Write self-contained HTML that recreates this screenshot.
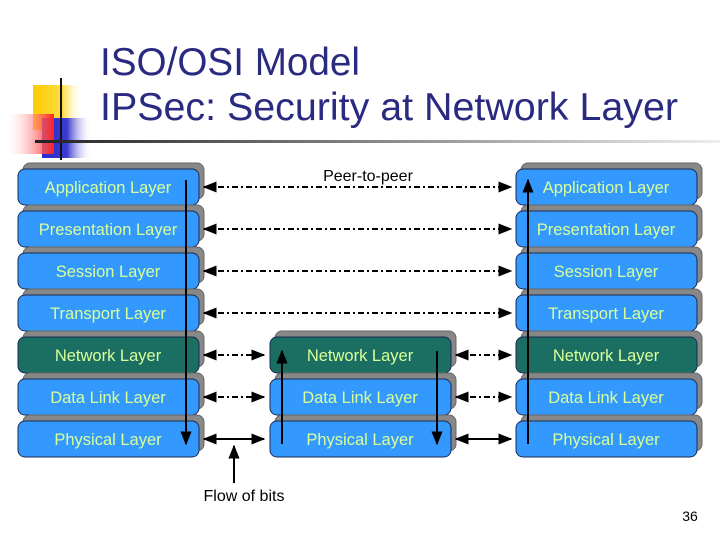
<!DOCTYPE html>
<html><head><style>
body{margin:0;background:#fff;width:720px;height:540px;overflow:hidden;}
</style></head><body>
<svg width="720" height="540" xmlns="http://www.w3.org/2000/svg" font-family="Liberation Sans, Arial, sans-serif">
<defs>
<linearGradient id="yl" x1="0" x2="1"><stop offset="0" stop-color="#ffcc00"/><stop offset="0.6" stop-color="#ffdd44"/><stop offset="1" stop-color="#fff" stop-opacity="0"/></linearGradient>
<linearGradient id="rd" x1="1" x2="0"><stop offset="0" stop-color="#ff2020"/><stop offset="1" stop-color="#fff" stop-opacity="0.2"/></linearGradient>
<linearGradient id="bl" x1="0" x2="1"><stop offset="0" stop-color="#2a2acc"/><stop offset="0.5" stop-color="#3a3ad0"/><stop offset="1" stop-color="#fff" stop-opacity="0"/></linearGradient>
<linearGradient id="ln" x1="0" x2="1"><stop offset="0" stop-color="#222"/><stop offset="0.5" stop-color="#888"/><stop offset="1" stop-color="#eee"/></linearGradient>
<marker id="ah" viewBox="0 0 10 10" refX="9" refY="5" markerWidth="7" markerHeight="7" orient="auto-start-reverse"><path d="M0,1 L10,5 L0,9 z" fill="#000"/></marker>
</defs>
<rect x="33" y="85" width="50" height="45" fill="url(#yl)"/>
<rect x="42" y="118" width="50" height="40" fill="url(#bl)"/>
<rect x="8" y="114" width="46" height="40" fill="url(#rd)"/>
<line x1="61" y1="78" x2="61" y2="160" stroke="#111" stroke-width="2"/>
<rect x="35" y="140" width="685" height="3" fill="url(#ln)"/>
<text x="100" y="75" font-size="39" fill="#2a2a80" textLength="260" lengthAdjust="spacingAndGlyphs">ISO/OSI Model</text>
<text x="100" y="120" font-size="39" fill="#2a2a80" textLength="578" lengthAdjust="spacingAndGlyphs">IPSec: Security at Network Layer</text>
<g id="boxes"></g>
<text x="368" y="181" font-size="16" text-anchor="middle" fill="#000">Peer-to-peer</text>
<text x="244" y="501" font-size="16" text-anchor="middle" fill="#000">Flow of bits</text>
<text x="690" y="521" font-size="14" text-anchor="middle" fill="#000">36</text>
<line x1="234" y1="483" x2="234" y2="446" stroke="#000" stroke-width="2" marker-end="url(#ah)"/>
<g id="arrows" stroke="#000" stroke-width="2" fill="none"></g>
</svg>
<script>
var ns="http://www.w3.org/2000/svg";
var names=["Application Layer","Presentation Layer","Session Layer","Transport Layer","Network Layer","Data Link Layer","Physical Layer"];
var g=document.getElementById("boxes");
function el(t,a,p){var e=document.createElementNS(ns,t);for(var k in a)e.setAttribute(k,a[k]);(p||g).appendChild(e);return e;}
function box(x,y,label){
 var net=label=="Network Layer";
 el("rect",{x:x+5,y:y-6,width:181,height:36,rx:7,fill:"#888",stroke:"#666","stroke-width":1});
 el("rect",{x:x,y:y,width:181,height:36,rx:7,fill:net?"#1a6e62":"#3399ff",stroke:"#1a2a55","stroke-width":1});
 var t=el("text",{x:x+90,y:y+24,"font-size":16.5,"text-anchor":"middle",fill:"#d8ff99"});t.textContent=label;
}
for(var i=0;i<7;i++){var y=169+42*i;box(18,y,names[i]);box(516,y,names[i]);if(i>=4)box(270,y,names[i]);}
var a=document.getElementById("arrows");
function ln(x1,y1,x2,y2,dash,both){var e=el("line",{x1:x1,y1:y1,x2:x2,y2:y2,"marker-end":"url(#ah)"},a);if(both)e.setAttribute("marker-start","url(#ah)");if(dash)e.setAttribute("stroke-dasharray","6,3,2,3");}
for(var i=0;i<7;i++){var y=187+42*i;var d=i<6;
 if(i<4)ln(204,y,511,y,d,true);
 else{ln(204,y,264,y,d,true);ln(456,y,511,y,d,true);}
}
ln(186,180,186,444,false,false);
ln(282,444,282,351,false,false);
ln(437,351,437,444,false,false);
ln(528,444,528,180,false,false);
</script>
</body></html>
